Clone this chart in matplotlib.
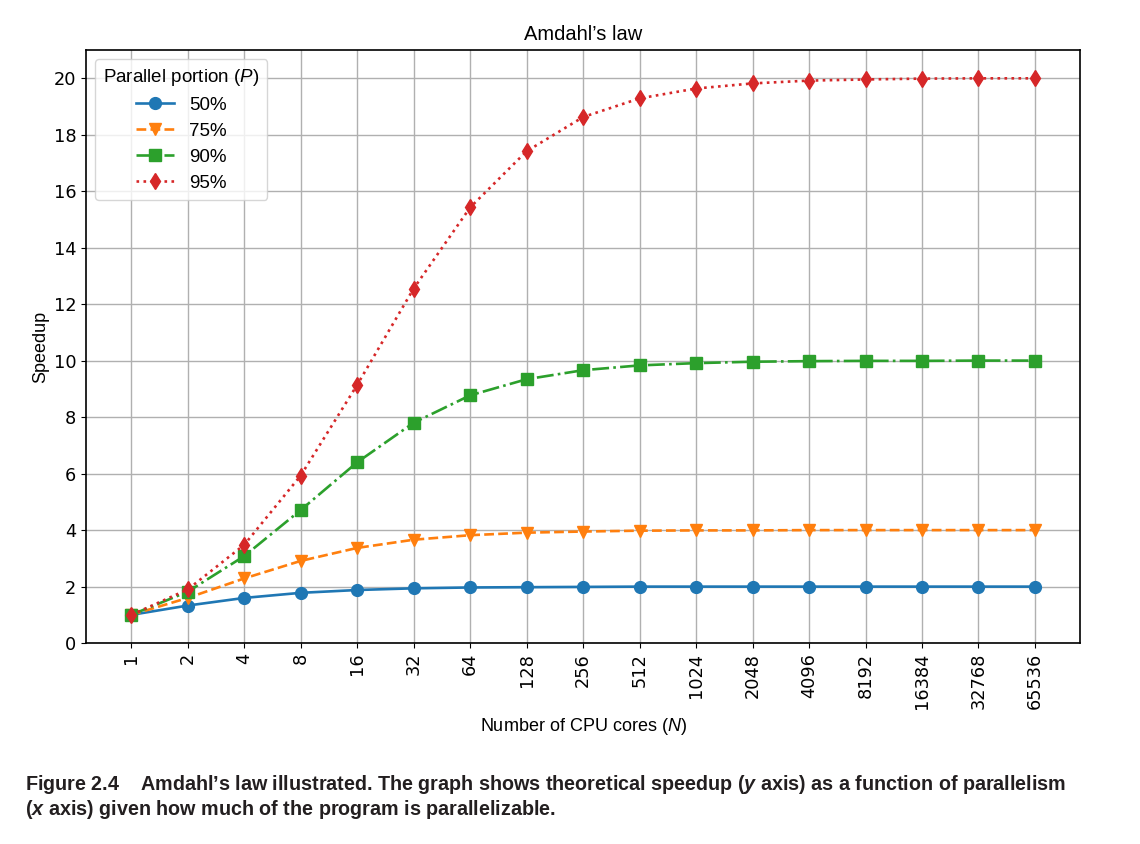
import matplotlib
matplotlib.use("Agg")
import matplotlib.pyplot as plt

cores = [1, 2, 4, 8, 16, 32, 64, 128, 256, 512, 1024, 2048, 4096, 8192, 16384, 32768, 65536]
portions = ["50%", "75%", "90%", "95%"]

speedup_50 = [1.00, 1.33, 1.60, 1.78, 1.88, 1.94, 1.97, 1.98, 1.99, 2.00, 2.00, 2.00, 2.00, 2.00, 2.00, 2.00, 2.00]
speedup_75 = [1.00, 1.60, 2.29, 2.91, 3.37, 3.66, 3.82, 3.91, 3.95, 3.98, 3.99, 3.99, 4.00, 4.00, 4.00, 4.00, 4.00]
speedup_90 = [1.00, 1.82, 3.08, 4.71, 6.40, 7.80, 8.77, 9.34, 9.66, 9.83, 9.91, 9.96, 9.98, 9.99, 9.99, 10.00, 10.00]
speedup_95 = [1.00, 1.90, 3.48, 5.93, 9.14, 12.55, 15.42, 17.41, 18.62, 19.28, 19.63, 19.81, 19.91, 19.95, 19.98, 19.99, 19.99]

series = [speedup_50, speedup_75, speedup_90, speedup_95]
markers = ["o", "v", "s", "d"]
styles = ["-", "--", "-.", ":"]

plt.rcParams["mathtext.fontset"] = "custom"
plt.rcParams["mathtext.rm"] = "Liberation Sans"
plt.rcParams["mathtext.it"] = "Liberation Sans:italic"
plt.rcParams["mathtext.bfit"] = "Liberation Sans:italic:bold"

fig = plt.figure(figsize=(11.4, 8.44), dpi=100)
ax = fig.add_axes([0.0755, 0.238, 0.872, 0.703])

x = list(range(len(cores)))
for vals, label, m, ls in zip(series, portions, markers, styles):
    ax.plot(x, vals, marker=m, linestyle=ls, label=label, linewidth=1.9, markersize=8.5)

ax.set_xticks(x)
ax.set_xticklabels([str(c) for c in cores], rotation=90, fontsize=12.8)
ax.tick_params(axis="y", labelsize=12.8)
ax.set_ylim(0, 21)
ax.set_yticks(range(0, 21, 2))
ax.grid(True, color="#b0b0b0", linewidth=1.0)
for s in ax.spines.values():
    s.set_linewidth(1.2)

ax.set_title("Amdahl\u2019s law", fontsize=14.5, family="Liberation Sans", pad=7)
ax.set_xlabel("Number of CPU cores ($N$)", fontsize=13, family="Liberation Sans", labelpad=5)
ax.set_ylabel("Speedup", fontsize=13, family="Liberation Sans", labelpad=3)

leg = ax.legend(title="Parallel portion ($P$)", loc="upper left",
                prop={"family": "Liberation Sans", "size": 13.5},
                title_fontproperties={"family": "Liberation Sans", "size": 13.5},
                handlelength=2.0, labelspacing=0.47, borderpad=0.42)

cap_font = ["Liberation Sans Narrow", "Liberation Sans"]
fig.text(0.022, 0.064, "Figure 2.4    Amdahl\u2019s law illustrated. The graph shows theoretical speedup ($\\mathbfit{y}$ axis) as a function of parallelism",
         family=cap_font, weight="bold", fontsize=14.2, color="#231f20")
fig.text(0.022, 0.034, "($\\mathbfit{x}$ axis) given how much of the program is parallelizable.",
         family=cap_font, weight="bold", fontsize=14.2, color="#231f20")

fig.savefig("out.png", dpi=100)
